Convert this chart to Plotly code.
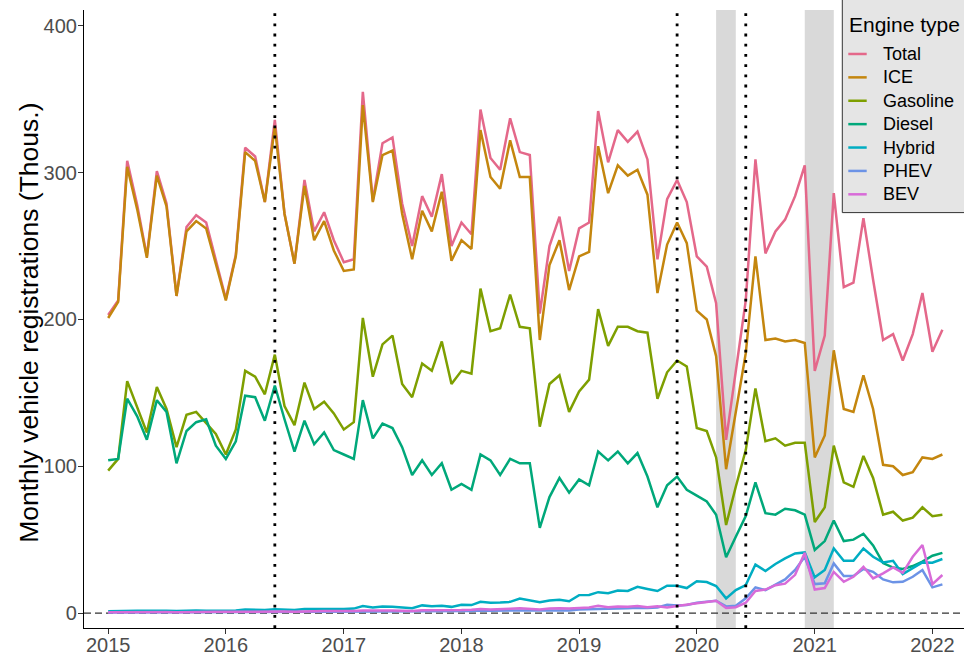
import pandas as pd
import plotly.graph_objects as go

# ---- data (thousands of monthly registrations, Jan 2015 - Feb 2022) ----
months = pd.date_range("2015-01-01", periods=86, freq="MS")

total = [203, 213, 308, 278, 243, 301, 279, 216, 263, 271, 266, 240,
         214, 244, 317, 311, 280, 336, 272, 238, 295, 260, 273, 254,
         239, 241, 355, 281, 320, 324, 279, 250, 284, 270, 299, 250,
         266, 258, 343, 310, 302, 337, 314, 312, 204, 250, 270, 233,
         262, 266, 342, 307, 329, 321, 328, 309, 241, 282, 295, 280,
         243, 236, 211, 118, 166, 213, 309, 245, 260, 268, 284, 305,
         165, 189, 286, 222, 225, 269, 227, 186, 190, 172, 190, 218,
         178, 193]

ice = [201, 212, 304, 275, 242, 298, 277, 216, 260, 267, 262, 238,
       213, 243, 314, 308, 280, 331, 272, 238, 291, 254, 267, 247,
       233, 234, 346, 280, 312, 315, 272, 241, 274, 260, 287, 240,
       254, 248, 329, 297, 289, 322, 297, 297, 186, 237, 254, 220,
       243, 246, 318, 286, 305, 298, 302, 285, 218, 251, 266, 252,
       206, 200, 175, 98, 138, 177, 243, 186, 187, 185, 186, 184,
       106, 121, 179, 139, 137, 162, 139, 101, 100, 94, 96, 106,
       105, 108]

gasoline = [97, 105, 158, 140, 123, 154, 139, 113, 135, 137, 129, 122,
            108, 125, 165, 161, 149, 176, 141, 128, 157, 139, 144, 136,
            125, 130, 201, 161, 183, 189, 156, 147, 170, 165, 185, 156,
            165, 163, 221, 192, 194, 217, 195, 194, 127, 156, 162, 137,
            151, 159, 207, 182, 195, 195, 192, 191, 146, 164, 172, 168,
            126, 124, 106, 60, 86, 111, 153, 117, 119, 114, 116, 116,
            62, 72, 114, 89, 86, 107, 92, 67, 69, 63, 65, 72,
            66, 67]

diesel = [104, 105, 146, 134, 118, 145, 137, 102, 124, 130, 132, 114,
          105, 117, 148, 147, 131, 155, 132, 110, 131, 115, 123, 111,
          108, 105, 145, 119, 129, 126, 113, 94, 104, 94, 102, 84,
          88, 84, 108, 104, 94, 105, 102, 102, 58, 79, 92, 82,
          91, 87, 110, 104, 110, 102, 109, 93, 72, 87, 93, 84,
          80, 76, 67, 38, 52, 66, 89, 68, 67, 71, 70, 67,
          43, 49, 63, 49, 50, 54, 46, 34, 31, 30, 32, 35,
          39, 41]

hybrid = [1.2, 1.4, 1.8, 1.6, 1.5, 1.7, 1.6, 1.3, 1.6, 1.7, 1.6, 1.5,
          1.4, 1.7, 2.4, 2.3, 2.0, 2.6, 2.3, 2.0, 2.8, 2.7, 3.0, 2.9,
          2.8, 3.0, 4.8, 3.8, 4.4, 4.3, 3.6, 3.3, 5.2, 4.6, 5.0, 4.2,
          5.6, 5.4, 7.6, 7.0, 7.2, 7.6, 9.9, 8.8, 7.3, 8.6, 9.0, 8.0,
          12.2, 12.3, 14.2, 13.5, 15.3, 15.0, 17.8, 16.4, 15.0, 18.6, 18.6, 17.0,
          21.6, 21.1, 18.4, 10.0, 15.6, 19.0, 33.0, 28.6, 33.4, 37.2, 40.6, 41.3,
          24.3, 29.3, 44.0, 35.6, 35.6, 44.0, 38.3, 34.5, 35.6, 26.5, 30.4, 34.5,
          34.3, 36.8]

phev = [0.3, 0.3, 0.4, 0.4, 0.4, 0.5, 0.4, 0.4, 0.5, 0.5, 0.5, 0.5,
        0.5, 0.6, 0.8, 0.7, 0.7, 0.8, 0.7, 0.6, 0.8, 0.8, 0.9, 0.9,
        0.8, 0.9, 1.2, 1.0, 1.2, 1.2, 1.1, 0.9, 1.2, 1.1, 1.3, 1.1,
        1.3, 1.4, 1.8, 1.6, 1.6, 1.8, 1.9, 1.7, 1.5, 1.8, 2.0, 1.8,
        2.4, 2.5, 3.0, 2.8, 3.0, 3.2, 3.6, 3.4, 3.8, 5.6, 5.2, 5.5,
        7.0, 7.8, 8.4, 4.5, 5.0, 10.0, 17.5, 15.6, 19.5, 22.9, 29.3, 38.3,
        19.7, 20.2, 33.8, 25.2, 25.2, 30.0, 28.1, 22.9, 20.9, 21.3, 24.7, 29.3,
        17.5, 19.5]

bev = [0.5, 0.6, 0.7, 0.7, 0.6, 0.8, 0.7, 0.6, 0.8, 0.8, 0.8, 0.9,
       0.8, 0.9, 1.1, 1.0, 1.0, 1.3, 1.0, 0.9, 1.2, 1.2, 1.3, 1.4,
       1.2, 1.4, 1.8, 1.5, 1.7, 1.8, 1.5, 1.3, 1.9, 1.8, 2.2, 2.0,
       2.0, 2.2, 2.7, 2.4, 2.5, 2.9, 3.3, 2.8, 2.4, 3.0, 3.3, 3.0,
       3.6, 3.8, 5.0, 4.0, 4.5, 4.3, 4.8, 4.0, 4.6, 3.8, 4.8, 5.5,
       6.6, 7.5, 8.4, 3.5, 4.0, 7.0, 15.0, 16.0, 19.0, 20.0, 26.0, 41.0,
       16.0, 17.0, 28.0, 21.3, 24.7, 31.5, 23.6, 27.0, 31.1, 27.4, 38.3, 46.3,
       19.7, 25.9]

series_names = ["Total", "ICE", "Gasoline", "Diesel", "Hybrid", "PHEV", "BEV"]
series_values = [total, ice, gasoline, diesel, hybrid, phev, bev]
series_colors = ["#E4688A", "#C4860E", "#7E9F00", "#00A87A", "#00ADC2", "#6C93E6", "#D86BD8"]

event_dates = ["2016-06-01", "2019-11-01", "2020-06-01"]
shade_periods = [("2020-03-01", "2020-05-01"), ("2020-12-01", "2021-03-01")]

year_ticks = [f"{y}-01-01" for y in range(2015, 2023)]
year_labels = [str(y) for y in range(2015, 2023)]

y_ticks = [0, 100, 200, 300, 400]
y_title = "Monthly vehicle registrations (Thous.)"
legend_title = "Engine type"

FONT = "Liberation Sans, Arial, sans-serif"

fig = go.Figure()
for name, vals, col in zip(series_names, series_values, series_colors):
    fig.add_trace(go.Scatter(x=months, y=vals, mode="lines", name=name,
                             line=dict(color=col, width=2.5), showlegend=False,
                             hoverinfo="skip"))

shapes = []
for a, b in shade_periods:
    shapes.append(dict(type="rect", xref="x", yref="paper", x0=a, x1=b, y0=0, y1=1,
                       fillcolor="#D9D9D9", line=dict(width=0), layer="below"))
shapes.append(dict(type="line", xref="paper", yref="y", x0=0, x1=1, y0=0, y1=0,
                   line=dict(color="#333333", width=1.3, dash="7px,4px"), layer="below"))
for d in event_dates:
    shapes.append(dict(type="line", xref="x", yref="paper", x0=d, x1=d, y0=0, y1=1,
                       line=dict(color="black", width=2.8, dash="2.8px,7.4px"), layer="above"))

# ---- legend drawn manually (ggplot-like box) ----
L, R_ = 84.0, 964.0
T, B = 10.0, 628.3
def px(xp):
    return (xp - L) / (R_ - L)
def py(yp):
    return (B - yp) / (B - T)

annotations = []
shapes.append(dict(type="rect", xref="paper", yref="paper", x0=px(842.3), x1=px(975),
                   y0=py(212.7), y1=py(-2), fillcolor="#E5E5E5",
                   line=dict(color="#333333", width=1), layer="above"))
annotations.append(dict(xref="paper", yref="paper", x=px(846.5), y=py(25), text=legend_title,
                        showarrow=False, xanchor="left", yanchor="middle",
                        font=dict(family=FONT, size=21, color="black")))
for k, (name, col) in enumerate(zip(series_names, series_colors)):
    yc = 54 + 23.4 * k
    shapes.append(dict(type="line", xref="paper", yref="paper", x0=px(848.3), x1=px(866.7),
                       y0=py(yc), y1=py(yc), line=dict(color=col, width=2.5), layer="above"))
    annotations.append(dict(xref="paper", yref="paper", x=px(880.5), y=py(yc), text=name,
                            showarrow=False, xanchor="left", yanchor="middle",
                            font=dict(family=FONT, size=18, color="black")))

# y-axis title as rotated text
annotations.append(dict(xref="paper", yref="paper", x=px(29), y=py(323), text=y_title,
                        textangle=-90, showarrow=False, xanchor="center", yanchor="middle",
                        font=dict(family=FONT, size=26.5, color="black")))

fig.update_layout(
    width=964, height=660,
    margin=dict(l=84, r=0, t=10, b=660 - 628),
    plot_bgcolor="white", paper_bgcolor="white",
    font=dict(family=FONT),
    shapes=shapes, annotations=annotations,
    hovermode=False,
    xaxis=dict(type="date", range=["2014-10-18", "2022-04-09"],
               tickvals=year_ticks, ticktext=year_labels,
               showgrid=False, zeroline=False, showline=True, linecolor="black", linewidth=1.2,
               ticks="outside", ticklen=5, tickcolor="#333333", tickwidth=1.1,
               ticklabelstandoff=-6,
               tickfont=dict(family=FONT, size=20, color="#4D4D4D")),
    yaxis=dict(range=[-10.2, 410.8], tickvals=y_ticks,
               showgrid=False, zeroline=False, showline=True, linecolor="black", linewidth=1.2,
               ticks="outside", ticklen=5, tickcolor="#333333", tickwidth=1.1,
               ticklabelstandoff=-3,
               tickfont=dict(family=FONT, size=20, color="#4D4D4D")),
)

fig.write_html("out.html", config={"displayModeBar": False},
               post_script="document.body.style.margin='0px';document.body.style.overflow='hidden';")
